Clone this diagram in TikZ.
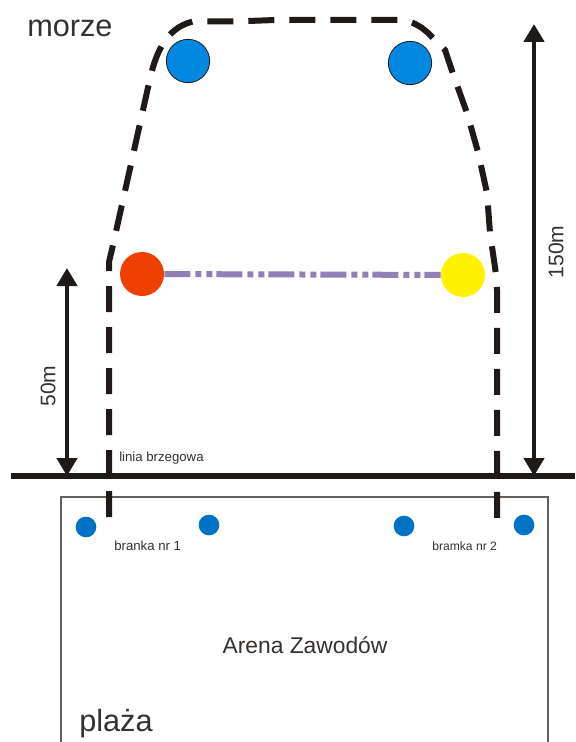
\documentclass[tikz,border=0pt]{standalone}
\usepackage{fontspec}
\setmainfont{Liberation Sans}
\usetikzlibrary{arrows.meta}
\definecolor{ink}{HTML}{1F1A17}
\definecolor{buoy}{HTML}{0088E0}
\definecolor{gatecol}{HTML}{0072C6}
\definecolor{lila}{HTML}{9180B8}
\definecolor{hot}{HTML}{F04000}
\tikzset{
  x=0.75pt,y=-0.75pt,
  course/.style={draw=ink,line width=4.5pt},
  coast/.style={draw=ink,line width=4.5pt},
  dim/.style={draw=ink,line width=3.4pt,-{Triangle[length=13.5pt,width=15pt]}},
  buoyc/.style={circle,draw=ink,line width=0.6pt,fill=buoy,minimum size=32.5pt,inner sep=0pt},
  gate/.style={circle,fill=gatecol,minimum size=15.5pt,inner sep=0pt},
  ball/.style={circle,minimum size=33pt,inner sep=0pt},
  big/.style={font=\fontsize{23pt}{26pt}\selectfont,text=ink!90,inner sep=0pt},
  mid/.style={font=\fontsize{17.1pt}{20pt}\selectfont,text=ink!90,inner sep=0pt},
  dimtxt/.style={font=\fontsize{15.8pt}{18pt}\selectfont,text=ink!90,inner sep=0pt},
  small/.style={font=\fontsize{9.9pt}{11pt}\selectfont,text=ink!90,inner sep=0pt}
}
\begin{document}
\begin{tikzpicture}
\useasboundingbox (0,0) rectangle (575,742);
\fill[white] (0,0) rectangle (575,742);
% arena
\draw[draw=ink!70,line width=0.9pt] (61,742) -- (61,497) -- (548,497) -- (548,742);
% coast
\coordinate (cl) at (11,476); \coordinate (cr) at (575,476);
\draw[coast] (cl) -- (cr);
% course
\draw[course,dash pattern=on 19.5pt off 11.25pt]
 (109,517) -- (109,262) -- (113,245) -- (149,83)
 .. controls (155,55) and (165,28) .. (193,21.5) -- (235,21.5) -- (275,20) -- (399,20)
 .. controls (412,20) and (424,28) .. (432,37) -- (445,50) -- (453,74) -- (467,113) -- (478,152) -- (487,193) -- (490,233) -- (496,274) -- (497,290) -- (497,520);
% nodes
\node[buoyc] (b1) at (188,61) {};
\node[buoyc] (b2) at (410,63) {};
\node[ball,fill=hot] (red) at (142,274) {};
\node[ball,fill=yellow] (yel) at (463,275) {};
\draw[draw=lila,line width=4.5pt,dash pattern=on 19.5pt off 3.75pt on 4.5pt off 3.75pt on 4.5pt off 3pt] (red) -- (yel);
\node[gate] (g1) at (86,527) {};
\node[gate] (g2) at (209,525) {};
\node[gate] (g3) at (404,526) {};
\node[gate] (g4) at (524,525) {};
% dimensions
\coordinate (a1) at (67,268); \coordinate (a2) at (67,476);
\coordinate (a3) at (534,24); \coordinate (a4) at (534,476);
\draw[dim] (67,372) -- (a1);
\draw[dim] (67,372) -- (a2);
\draw[dim] (534,250) -- (a3);
\draw[dim] (534,250) -- (a4);
% texts
\node[big,anchor=west] (morze) at (27,28) {morze};
\node[big,anchor=west] (plaza) at (79,724) {plaża};
\node[mid] (arena) at (305,645) {Arena Zawodów};
\node[dimtxt,rotate=90] (t50) at (48,386) {50m};
\node[dimtxt,rotate=90] (t150) at (556,252) {150m};
\node[small,anchor=west] (linia) at (119,458) {linia brzegowa};
\node[small,anchor=west] (br1) at (114,546) {branka nr 1};
\node[small,anchor=west] (br2) at (432,546) {\fontsize{9.1pt}{11pt}\selectfont bramka nr 2};
\end{tikzpicture}
\end{document}
